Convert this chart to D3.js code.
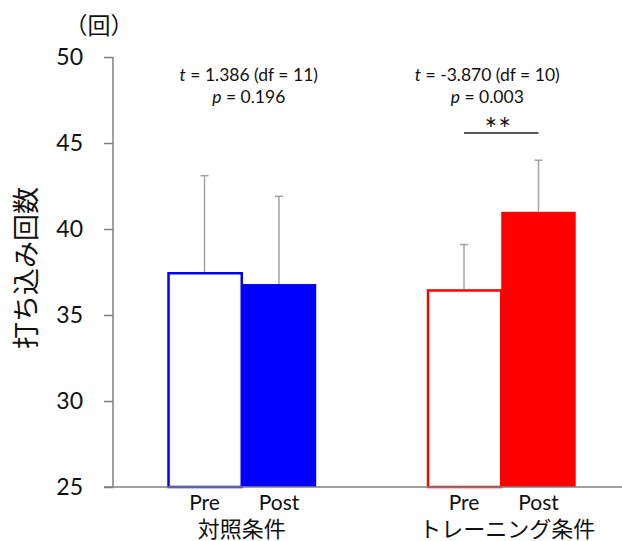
<!DOCTYPE html>
<html>
<head>
<meta charset="utf-8">
<script src="https://cdn.jsdelivr.net/npm/d3@7"></script>
<style>
  html, body { margin: 0; padding: 0; background: #fff; }
  svg { display: block; }
  text { font-family: Lato, "Noto Sans CJK JP", sans-serif; fill: #111; }
</style>
</head>
<body>
<div id="chart"></div>
<script>
// Conditions, phases and measurements (mean ± SD of 打ち込み回数)
const groups = ["対照条件", "トレーニング条件"];
const phases = ["Pre", "Post"];
const controlMeans = [37.5, 36.8];
const controlSD = [5.6, 5.1];
const trainingMeans = [36.5, 41.0];
const trainingSD = [2.6, 3.0];
const tStats = ["1.386 (df = 11)", "-3.870 (df = 10)"];
const pValues = ["0.196", "0.003"];
const significance = ["", "**"];
const yTicks = [25, 30, 35, 40, 45, 50];
const groupColors = ["#0000ff", "#ff0000"];

const means = [controlMeans, trainingMeans];
const sds = [controlSD, trainingSD];
const rows = [];
groups.forEach((g, gi) => phases.forEach((p, pi) => rows.push({
  group: g, phase: p, gi, pi, mean: means[gi][pi], sd: sds[gi][pi]
})));

const W = 622, H = 541;
const svg = d3.select("#chart").append("svg").attr("width", W).attr("height", H);

const y = d3.scaleLinear().domain([25, 50]).range([487, 57]);
const x0 = d3.scaleBand().domain(groups).range([112, 631])
  .paddingInner(0.426).paddingOuter(0.213);
const x1 = d3.scaleBand().domain(phases).range([0, x0.bandwidth()]);

const axisColor = "#808080";
const sw = 2.5;

// Bars: Pre is an outlined box, Post is solid
const bars = svg.append("g");
bars.selectAll("rect").data(rows).join("rect")
  .attr("x", d => x0(d.group) + x1(d.phase) + (d.pi === 0 ? sw / 2 : 0))
  .attr("width", d => x1.bandwidth() - (d.pi === 0 ? sw / 2 : 0))
  .attr("y", d => y(d.mean) + (d.pi === 0 ? sw / 2 : 0))
  .attr("height", d => y(25) - y(d.mean) - (d.pi === 0 ? sw / 2 : 0))
  .attr("fill", d => d.pi === 0 ? "#fff" : groupColors[d.gi])
  .attr("stroke", d => d.pi === 0 ? groupColors[d.gi] : "none")
  .attr("stroke-width", sw);

// Upper SD whiskers
const err = svg.append("g").attr("stroke", "#a3a3a3").attr("stroke-width", 1.5);
const cx = d => x0(d.group) + x1(d.phase) + x1.bandwidth() / 2;
err.selectAll("line.v").data(rows).join("line").attr("class", "v")
  .attr("x1", cx).attr("x2", cx)
  .attr("y1", d => y(d.mean)).attr("y2", d => y(d.mean + d.sd));
err.selectAll("line.c").data(rows).join("line").attr("class", "c")
  .attr("x1", d => cx(d) - 4).attr("x2", d => cx(d) + 4)
  .attr("y1", d => y(d.mean + d.sd)).attr("y2", d => y(d.mean + d.sd));

// Y axis
const yAxis = svg.append("g").attr("transform", "translate(113,0)")
  .call(d3.axisLeft(y).tickValues(yTicks).tickSize(9).tickPadding(21).tickFormat(d3.format("d")));
yAxis.select(".domain").attr("stroke", axisColor).attr("stroke-width", 1.5)
  .attr("d", `M0,${y(50)}V${y(25)}`);
yAxis.selectAll(".tick line").attr("stroke", axisColor).attr("stroke-width", 1.5);
yAxis.selectAll(".tick text").attr("font-size", 23).attr("font-family", "Lato, sans-serif").attr("fill", "#111");

// X baseline
svg.append("line").attr("x1", 104).attr("x2", W).attr("y1", y(25)).attr("y2", y(25))
  .attr("stroke", axisColor).attr("stroke-width", 1.5);

// Phase and condition labels
svg.append("g").selectAll("text").data(rows).join("text")
  .attr("x", cx).attr("y", 510).attr("text-anchor", "middle")
  .attr("font-size", 21).text(d => d.phase);
svg.append("g").selectAll("text").data(groups).join("text")
  .attr("x", (d, i) => x0(d) + x0.bandwidth() / 2 + (i === 1 ? 6 : 0))
  .attr("y", 537).attr("text-anchor", "middle")
  .attr("font-size", 22).attr("font-family", "'Noto Sans CJK JP', sans-serif")
  .text(d => d);

// Test statistics above each condition
const statOffset = [7, -14];
groups.forEach((g, i) => {
  const mx = x0(g) + x0.bandwidth() / 2 + statOffset[i];
  const t1 = svg.append("text").attr("x", mx).attr("y", 81).attr("text-anchor", "middle").attr("font-size", 17.5);
  t1.append("tspan").attr("font-style", "italic").text("t");
  t1.append("tspan").text(" = " + tStats[i]);
  const t2 = svg.append("text").attr("x", mx).attr("y", 103).attr("text-anchor", "middle").attr("font-size", 17.5);
  t2.append("tspan").attr("font-style", "italic").text("p");
  t2.append("tspan").text(" = " + pValues[i]);
  if (significance[i]) {
    const a = x0(g) + x1("Pre") + x1.bandwidth() / 2;
    const b = x0(g) + x1("Post") + x1.bandwidth() / 2;
    svg.append("line").attr("x1", a).attr("x2", b).attr("y1", 133).attr("y2", 133)
      .attr("stroke", "#222").attr("stroke-width", 1.5);
    svg.append("text").attr("x", (a + b) / 2 - 3).attr("y", 140).attr("text-anchor", "middle")
      .attr("font-size", 30).attr("font-family", "'DejaVu Sans', sans-serif")
      .attr("letter-spacing", 1).text(significance[i]);
  }
});

// Axis title and unit
svg.append("text").attr("transform", "translate(36,268) rotate(-90)")
  .attr("text-anchor", "middle").attr("font-size", 27)
  .attr("font-family", "'Noto Sans CJK JP', sans-serif").text("打ち込み回数");
svg.append("text").attr("x", 99).attr("y", 34).attr("text-anchor", "middle")
  .attr("font-size", 23).attr("font-family", "'Noto Sans CJK JP', sans-serif").text("（回）");
</script>
</body>
</html>
